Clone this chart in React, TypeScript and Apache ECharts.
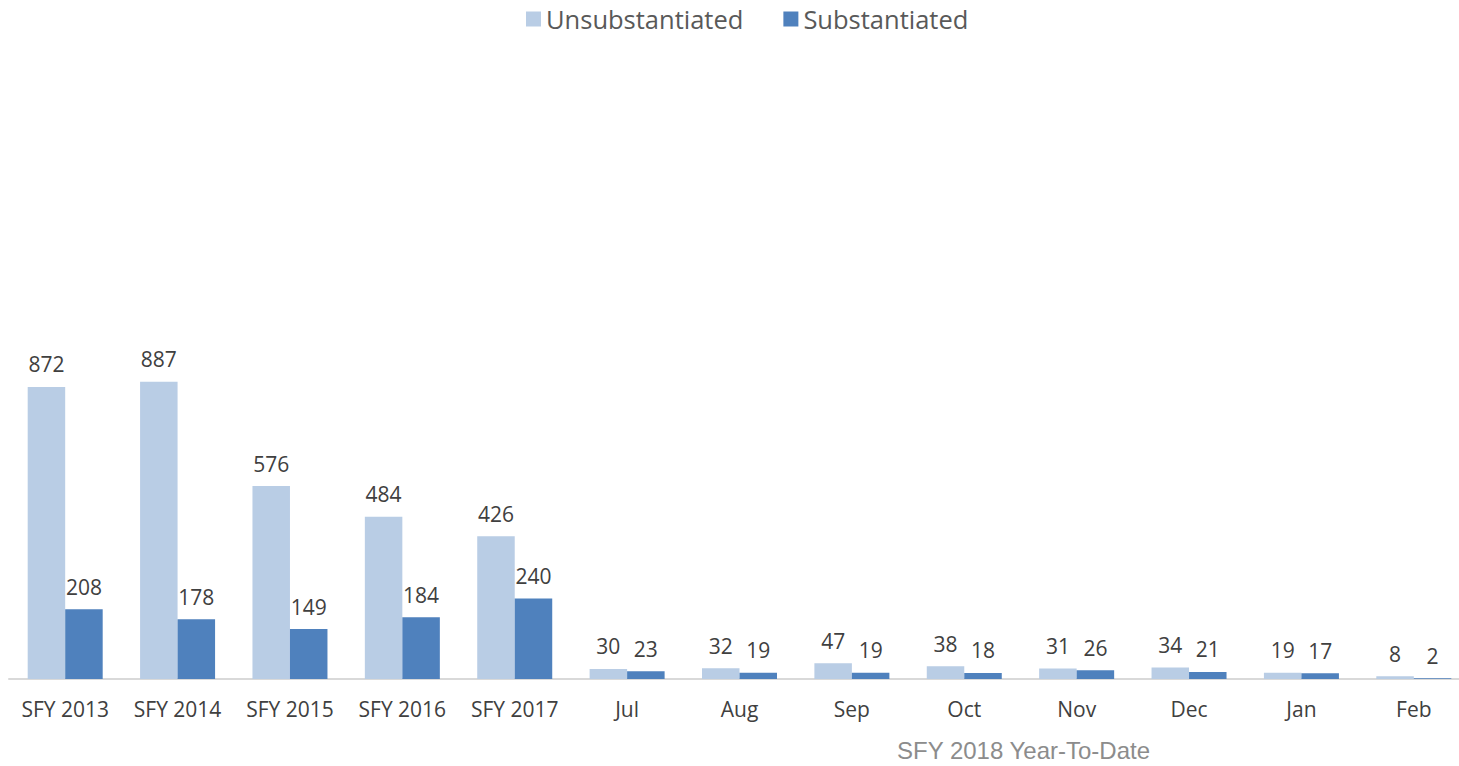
import React, { useEffect, useRef } from "react";
import * as echarts from "echarts";

const categories = ["SFY 2013", "SFY 2014", "SFY 2015", "SFY 2016", "SFY 2017", "Jul", "Aug", "Sep", "Oct", "Nov", "Dec", "Jan", "Feb"];
const unsubstantiated = [872, 887, 576, 484, 426, 30, 32, 47, 38, 31, 34, 19, 8];
const substantiated = [208, 178, 149, 184, 240, 23, 19, 19, 18, 26, 21, 17, 2];
const subtitle = "SFY 2018 Year-To-Date";

const FONT = "'Open Sans', 'Noto Sans', sans-serif";

export default function App() {
  const ref = useRef<HTMLDivElement>(null);
  useEffect(() => {
    if (!ref.current) return;
    const chart = echarts.init(ref.current, undefined, { renderer: "svg" });
    const label = {
      show: true,
      position: "top" as const,
      distance: 12,
      color: "#404040",
      fontSize: 21,
      fontFamily: FONT,
    };
    chart.setOption({
      animation: false,
      backgroundColor: "#ffffff",
      legend: {
        top: 1,
        left: 521,
        itemWidth: 15,
        itemHeight: 15,
        itemGap: 40,
        icon: "rect",
        textStyle: { color: "#595959", fontSize: 25.5, fontFamily: FONT },
        data: ["Unsubstantiated", "Substantiated"],
      },
      grid: { left: 9, right: 2, top: 344, bottom: 87, containLabel: false },
      xAxis: {
        type: "category",
        data: categories,
        axisLine: { lineStyle: { color: "#d9d9d9", width: 2 } },
        axisTick: { show: false },
        axisLabel: { color: "#404040", fontSize: 21, fontFamily: FONT, margin: 19, interval: 0 },
      },
      yAxis: {
        type: "value",
        min: 0,
        max: 1000,
        show: false,
        splitLine: { show: false },
      },
      graphic: [
        {
          type: "text",
          left: 897,
          top: 738,
          style: { text: subtitle, fill: "#8c8c8c", fontSize: 24, fontFamily: "'Liberation Sans', Arial, sans-serif" },
        },
      ],
      series: [
        {
          name: "Unsubstantiated",
          type: "bar",
          data: unsubstantiated,
          barWidth: 37.5,
          barGap: "0%",
          itemStyle: { color: "#b9cde5" },
          label,
        },
        {
          name: "Substantiated",
          type: "bar",
          data: substantiated,
          barWidth: 37.5,
          barGap: "0%",
          itemStyle: { color: "#4f81bd" },
          label,
        },
      ],
    });
    return () => chart.dispose();
  }, []);
  return (
    <div style={{ position: "absolute", left: 0, top: 0, width: 1459, height: 766, overflow: "hidden" }}>
      <div ref={ref} style={{ width: 1472, height: 766 }} />
    </div>
  );
}
